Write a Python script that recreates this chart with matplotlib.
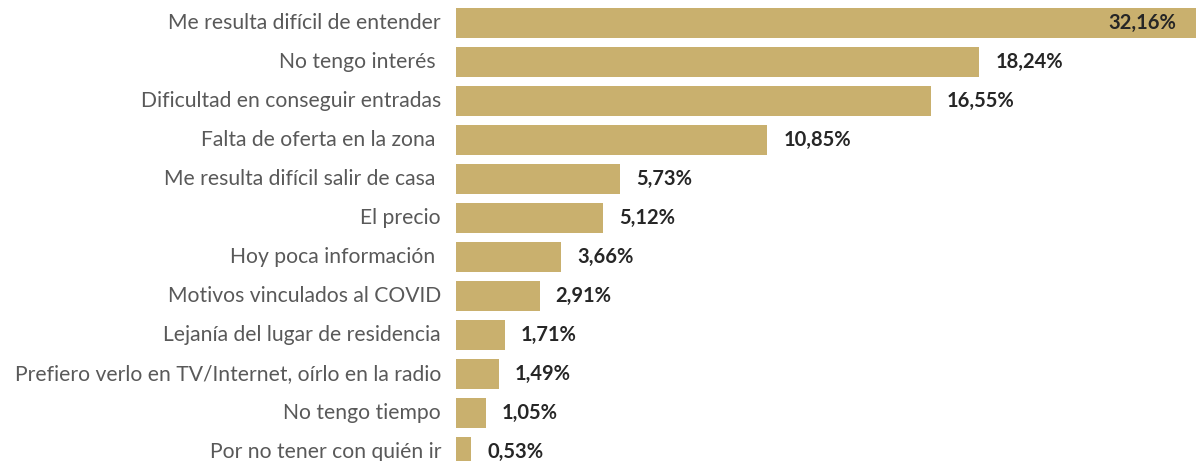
import matplotlib
matplotlib.use('Agg')
import matplotlib.pyplot as plt

categorias = [
    "Me resulta difícil de entender",
    "No tengo interés ",
    "Dificultad en conseguir entradas",
    "Falta de oferta en la zona ",
    "Me resulta difícil salir de casa ",
    "El precio",
    "Hoy poca información ",
    "Motivos vinculados al COVID",
    "Lejanía del lugar de residencia",
    "Prefiero verlo en TV/Internet, oírlo en la radio",
    "No tengo tiempo",
    "Por no tener con quién ir",
]
valores = [32.16, 18.24, 16.55, 10.85, 5.73, 5.12, 3.66, 2.91, 1.71, 1.49, 1.05, 0.53]

bar_color = '#C9B06E'
plt.rcParams['font.family'] = ['Lato', 'DejaVu Sans']

W, H = 1196, 461
fig = plt.figure(figsize=(W / 100, H / 100), dpi=100)
# axes spans from bar base to right edge of the picture
x0 = 456
ax = fig.add_axes([x0 / W, 0, (W - x0) / W, 1])

pos = list(range(len(categorias)))
ax.barh(pos, valores, height=0.79, color=bar_color)

xmax = (W - x0) / 28.7
ax.set_xlim(0, xmax)
ax.set_ylim((H - 23) / 39, -23 / 39)

for i, v in zip(pos, valores):
    txt = f"{v:.2f}".replace('.', ',') + '%'
    if v > xmax:
        ax.text(xmax - 20 / 28.7, i, txt, ha='right', va='center',
                fontsize=14.5, fontweight='bold', color='#262626')
    else:
        ax.annotate(txt, (v, i), xytext=(16, 0), textcoords='offset pixels',
                    ha='left', va='center', fontsize=14.5, fontweight='bold',
                    color='#262626')
    ax.annotate(categorias[i], (0, i), xytext=(-15, 0), textcoords='offset pixels',
                ha='right', va='center', fontsize=15.2, color='#595959',
                annotation_clip=False)

ax.axis('off')
fig.savefig('out.png', dpi=100)
